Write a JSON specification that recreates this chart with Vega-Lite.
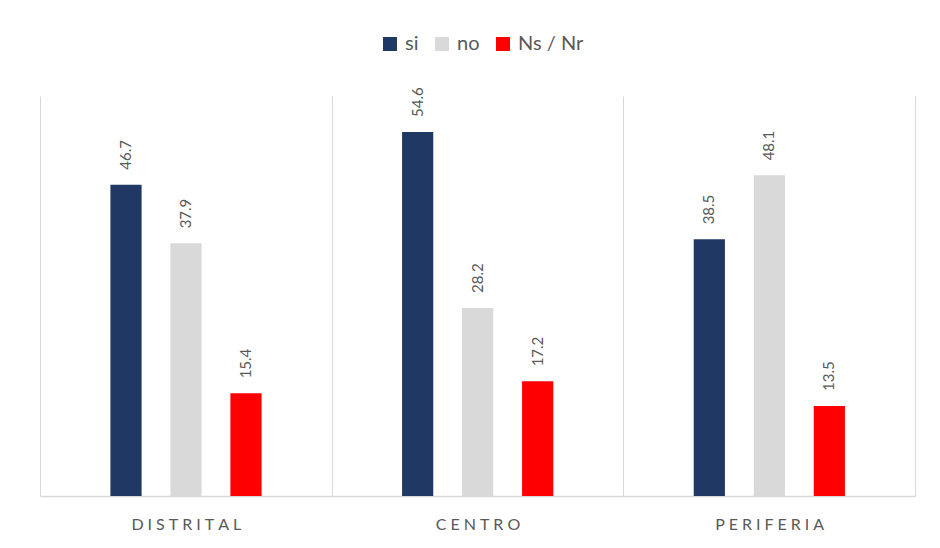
{
  "$schema": "https://vega.github.io/schema/vega-lite/v6.json",
  "width": 875,
  "height": 400,
  "autosize": {"type": "none"},
  "padding": {"left": 40, "top": 96, "right": 25, "bottom": 52},
  "background": "white",
  "config": {"view": {"stroke": null}},
  "data": {
    "values": [
      {"zona": "DISTRITAL", "resp": "si", "valor": 46.7},
      {"zona": "DISTRITAL", "resp": "no", "valor": 37.9},
      {"zona": "DISTRITAL", "resp": "Ns / Nr", "valor": 15.4},
      {"zona": "CENTRO", "resp": "si", "valor": 54.6},
      {"zona": "CENTRO", "resp": "no", "valor": 28.2},
      {"zona": "CENTRO", "resp": "Ns / Nr", "valor": 17.2},
      {"zona": "PERIFERIA", "resp": "si", "valor": 38.5},
      {"zona": "PERIFERIA", "resp": "no", "valor": 48.1},
      {"zona": "PERIFERIA", "resp": "Ns / Nr", "valor": 13.5}
    ]
  },
  "encoding": {
    "x": {
      "field": "zona", "type": "nominal", "sort": ["DISTRITAL", "CENTRO", "PERIFERIA"],
      "scale": {"paddingInner": 0, "paddingOuter": 0},
      "axis": {
        "title": null, "labelAngle": 0, "ticks": false, "tickBand": "extent",
        "grid": true, "gridColor": "#D9D9D9", "gridWidth": 1,
        "domainColor": "#D9D9D9", "domainWidth": 1.5,
        "labelFont": "Lato", "labelFontSize": 16, "labelColor": "#595959",
        "labelPadding": 20,
        "labelExpr": "join(split(datum.label, ''), '\u2009\u2009')"
      }
    },
    "xOffset": {
      "field": "resp", "type": "nominal", "sort": ["si", "no", "Ns / Nr"],
      "scale": {"paddingInner": 0.48, "paddingOuter": 1, "range": [10.4, 281.6]}
    },
    "y": {
      "field": "valor", "type": "quantitative",
      "scale": {"domain": [0, 60], "nice": false},
      "axis": null
    }
  },
  "layer": [
    {
      "mark": {"type": "bar"},
      "encoding": {
        "color": {
          "field": "resp", "type": "nominal",
          "sort": ["si", "no", "Ns / Nr"],
          "scale": {"domain": ["si", "no", "Ns / Nr"], "range": ["#1F3864", "#D9D9D9", "#FF0000"]},
          "legend": {
            "title": null, "orient": "none", "direction": "horizontal",
            "legendX": 340, "legendY": -62, "gridAlign": "none",
            "symbolType": "square", "symbolSize": 196, "symbolStrokeWidth": 0,
            "labelFont": "Lato", "labelFontSize": 20, "labelColor": "#595959",
            "labelOffset": 5, "columnPadding": 13
          }
        }
      }
    },
    {
      "mark": {"type": "text", "angle": 270, "align": "left", "baseline": "middle", "dx": 15,
               "font": "Lato", "fontSize": 15, "color": "#595959"},
      "encoding": {
        "text": {"field": "valor", "type": "quantitative", "format": ".1f"}
      }
    }
  ]
}
